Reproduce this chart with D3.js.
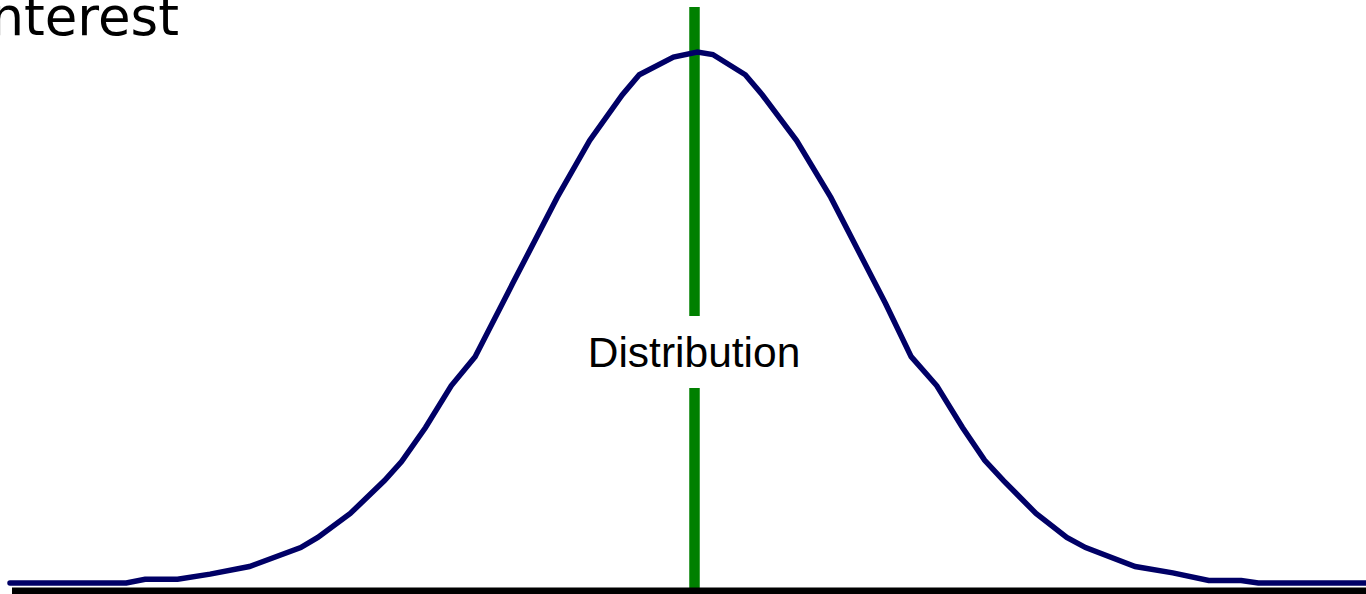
<!DOCTYPE html>
<html>
<head>
<meta charset="utf-8">
<script src="https://cdn.jsdelivr.net/npm/d3@7"></script>
<style>
  html, body { margin: 0; padding: 0; background: #fff; overflow: hidden; }
  svg { display: block; }
</style>
</head>
<body>
<div id="container"></div>
<script>
// sampled density, x in standard units, y as density
var xs = [-4.00, -3.32, -3.21, -3.02, -2.83, -2.60, -2.30, -2.20, -2.01, -1.81,
          -1.71, -1.57, -1.42, -1.28, -1.06, -0.80, -0.61, -0.42, -0.32, -0.12,
           0.02,  0.11,  0.30,  0.40,  0.60,  0.80,  0.96,  1.12,  1.27,  1.42,
           1.57,  1.70,  1.81,  2.00,  2.18,  2.29,  2.58,  2.80,  3.01,  3.20,
           3.30,  4.00];
var ys = [0.000, 0.000, 0.003, 0.003, 0.007, 0.013, 0.028, 0.036, 0.055, 0.081,
          0.096, 0.123, 0.156, 0.179, 0.237, 0.305, 0.350, 0.386, 0.402, 0.416,
          0.420, 0.418, 0.402, 0.386, 0.350, 0.305, 0.263, 0.221, 0.179, 0.156,
          0.123, 0.097, 0.081, 0.055, 0.036, 0.028, 0.013, 0.008, 0.002, 0.002,
          0.000, 0.000];
var centre = 0;
var centre_label = "Distribution";
var title_text = "Parameter of interest";

var width = 1366, height = 594;

var svg = d3.select("div#container")
  .append("svg")
  .attr("width", width)
  .attr("height", height);

var x = d3.scaleLinear().domain([-4, 4]).range([10, 1378]);
var y = d3.scaleLinear().domain([0, 0.42]).range([583, 52]);

var points = xs.map(function(d, i) { return [d, ys[i]]; });

// title, runs off the left edge like the source slide
svg.append("text")
  .attr("x", 179)
  .attr("y", 35)
  .attr("text-anchor", "end")
  .style("font-family", "'DejaVu Sans', Verdana, sans-serif")
  .style("font-size", "53px")
  .style("fill", "#000")
  .text(title_text);

// green centre line, broken round the label
var gap_top = 316, gap_bottom = 388;
svg.append("line")
  .attr("x1", x(centre) + 0.5).attr("x2", x(centre) + 0.5)
  .attr("y1", 7).attr("y2", gap_top)
  .style("stroke", "#008000").style("stroke-width", 10.5);
svg.append("line")
  .attr("x1", x(centre) + 0.5).attr("x2", x(centre) + 0.5)
  .attr("y1", gap_bottom).attr("y2", 590)
  .style("stroke", "#008000").style("stroke-width", 10.5);

svg.append("text")
  .attr("x", x(centre))
  .attr("y", 367)
  .attr("text-anchor", "middle")
  .style("font-family", "'Liberation Sans', Arial, sans-serif")
  .style("font-size", "42.5px")
  .style("fill", "#000")
  .text(centre_label);

// density curve
var line = d3.line()
  .x(function(d) { return x(d[0]); })
  .y(function(d) { return y(d[1]); });

svg.append("path")
  .datum(points)
  .attr("d", line)
  .style("fill", "none")
  .style("stroke", "#000066")
  .style("stroke-width", 5.5)
  .style("stroke-linecap", "round");

// baseline
svg.append("line")
  .attr("x1", 12).attr("x2", width)
  .attr("y1", 591.5).attr("y2", 591.5)
  .style("stroke", "#000").style("stroke-width", 8);
</script>
</body>
</html>
